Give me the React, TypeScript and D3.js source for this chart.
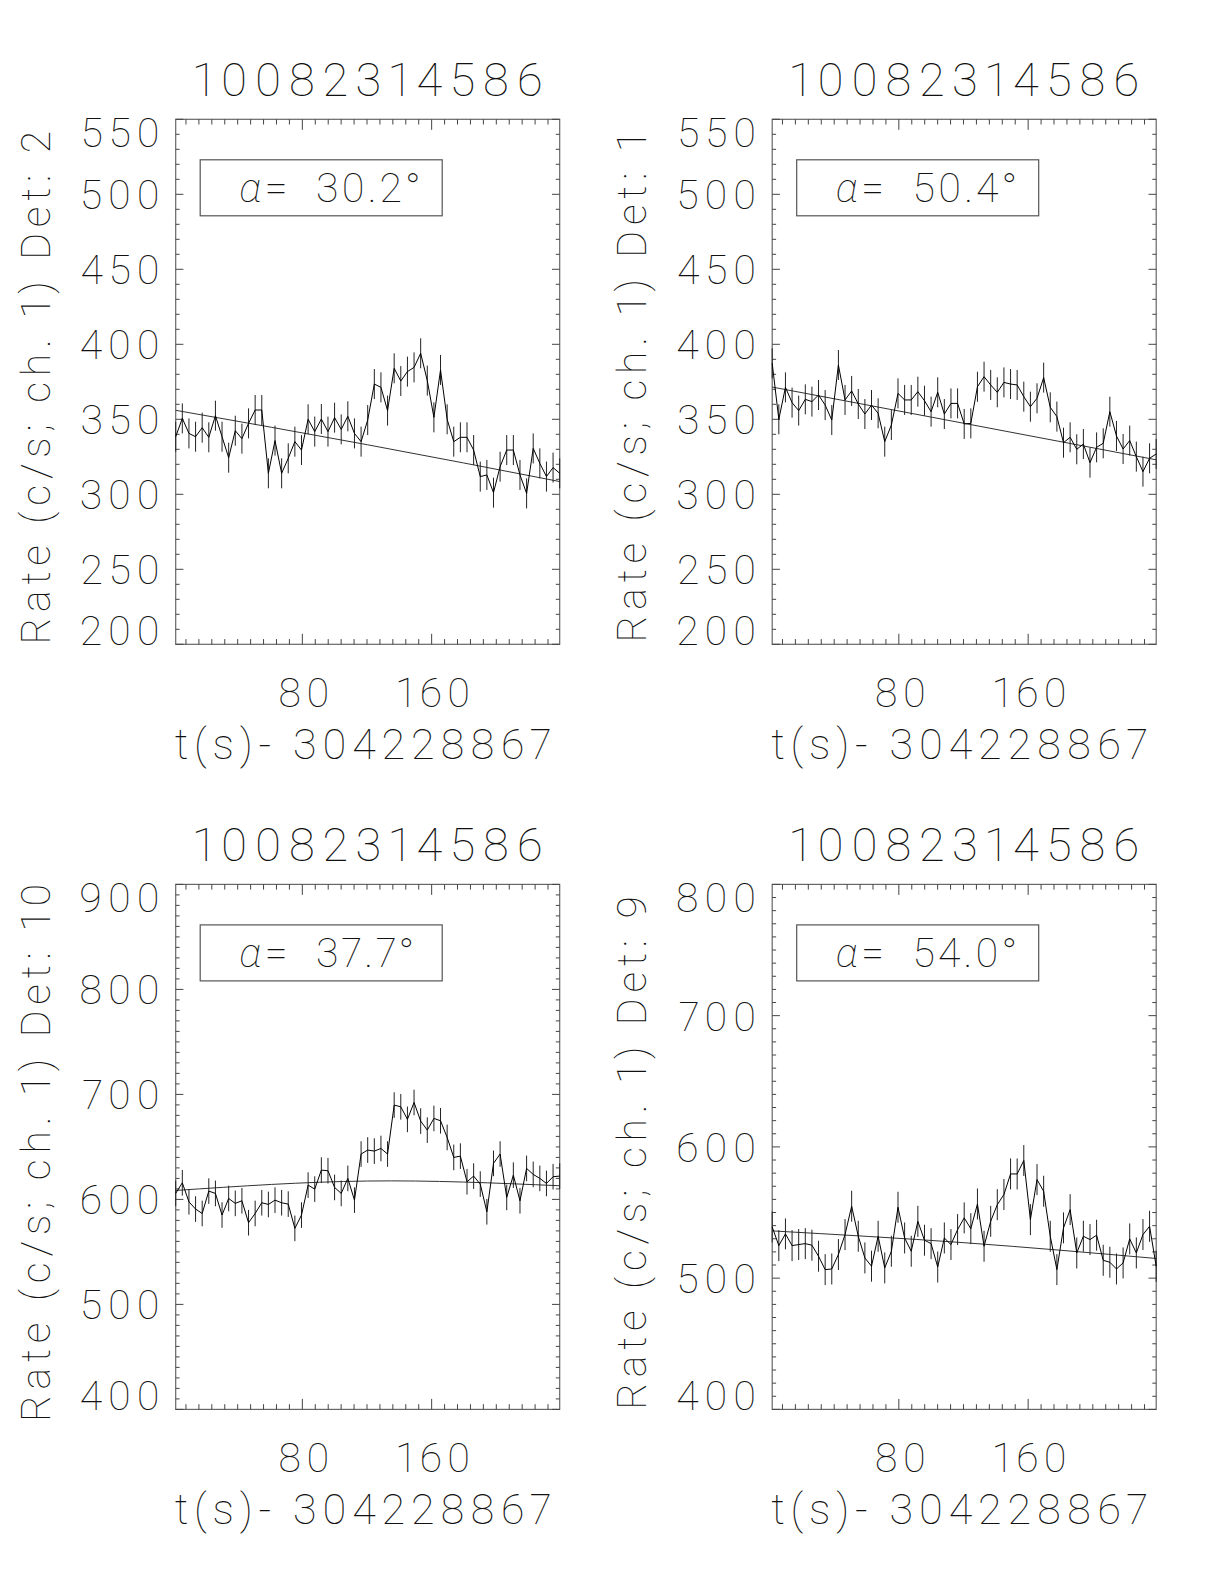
import React from "react";
import * as d3 from "d3";

// time bins (s after 304228867), 4.096 s CSPEC bins
const TIMES = [
  1.65, 5.75, 9.84, 13.94, 18.03, 22.13, 26.23, 30.32, 34.42, 38.51,
  42.61, 46.71, 50.8, 54.9, 58.99, 63.09, 67.19, 71.28, 75.38, 79.47,
  83.57, 87.67, 91.76, 95.86, 99.95, 104.05, 108.15, 112.24, 116.34, 120.43,
  124.53, 128.63, 132.72, 136.82, 140.91, 145.01, 149.11, 153.2, 157.3, 161.39,
  165.49, 169.59, 173.68, 177.78, 181.87, 185.97, 190.07, 194.16, 198.26, 202.35,
  206.45, 210.55, 214.64, 218.74, 222.83, 226.93, 231.03, 235.12, 239.22,
];

const RATE_DET2 = [
  338.4, 350.6, 340.6, 338.4, 344.4, 338, 352.4, 338.4, 324.4, 342.4,
  337.1, 347.3, 356.2, 356.2, 314, 335.8, 314, 324, 335.1, 329.5,
  350, 341.8, 350.2, 341.8, 351.1, 343.3, 352, 340.6, 335.1, 349.5,
  373.5, 371.3, 355.8, 384, 375.5, 381.8, 384.6, 394, 375.8, 351.3,
  382.9, 350, 335.1, 338, 338, 329.5, 311.8, 312.9, 301.1, 318.4,
  329.5, 329.5, 312.9, 300.6, 330.6, 320.6, 311.8, 317.8, 314,
];
const RATE_DET1 = [
  387.3, 350, 371.3, 361.1, 355.8, 363.3, 361.8, 366.2, 359.5, 349.5,
  386.2, 362.9, 368.9, 360.2, 353.5, 359.5, 354, 335.1, 346.2, 367.3,
  362.9, 362.9, 368.4, 362.4, 355.1, 368, 353.5, 360.6, 360.6,
  346.9, 347.3, 371.7, 378.4, 372.9, 368, 374.6, 373.5, 372.9, 365.1,
  358.4, 364, 377.8, 358, 351.8, 334.4, 338, 330, 333.5, 321.1,
  331.3, 334, 355.1, 338.9, 330.2, 335.8, 325.1, 315.1, 324, 326.9,
];
const RATE_DET10 = [
  605.7, 615.8, 597.7, 590.8, 586.6, 607.9, 605.7, 585.1, 600.9, 596.2,
  598.7, 577.8, 586.6, 596.8, 595.2, 599.3, 596.8, 595.5, 572.4, 585.1,
  613.6, 609.8, 627.9, 627.3, 611.4, 605.7, 620, 599.3, 643.2, 647,
  646, 648.5, 643.2, 689.8, 688.2, 676.2, 692.3, 674.6, 666, 677.1,
  674.9, 659, 640, 641.2, 616.8, 622.2, 614.6, 588.2, 634.3, 643.2,
  601.9, 623.1, 598.7, 629.5, 623.8, 620, 615.2, 621.6, 622.2,
];
const RATE_DET9 = [
  539, 524.8, 533.7, 524.8, 525.6, 526.3, 525.1, 516.7, 506.5, 507,
  518, 533.2, 554.8, 531.9, 515.4, 509.1, 531.9, 507.8, 520.5, 554,
  530.6, 520.5, 543.3, 528.9, 526.3, 508.5, 530.6, 525.6, 537,
  545.9, 537.7, 556.5, 524.3, 543.3, 556, 563.7, 579.4, 579.4, 589.6,
  544.6, 575.1, 566.2, 531.9, 506.5, 538.3, 552.2, 519.2, 531.9, 529.4,
  532.7, 513.6, 512.1, 507, 511.6, 529.9, 519.2, 533.2, 539.5, 509,
];

// background fit, evaluated at BG_TIMES
const BG_TIMES = [1.65, 120.43, 239.22];
const BG_DET2 = [356, 333, 308.5];
const BG_DET1 = [371.5, 347.3, 323];
const BG_DET10 = [608.5, 617.5, 613];
const BG_DET9 = [536, 527, 515];

const TITLES = ["10082314586", "10082314586", "10082314586", "10082314586"];
const DETS = ["2", "1", "10", "9"];
const ALPHAS = ["30.2", "50.4", "37.7", "54.0"];
const Y_DOMAINS = [[200, 550], [200, 550], [400, 900], [400, 800]];
const Y_MAJOR = [50, 50, 100, 100];
const ERRS = [10, 10, 12.2, 11.8];
const X_LABEL = "t(s)- 304228867";

const RATES = [RATE_DET2, RATE_DET1, RATE_DET10, RATE_DET9];
const BGS = [BG_DET2, BG_DET1, BG_DET10, BG_DET9];

// layout
const W = 1224, H = 1584;
const PW = 384, PH = 525;
const LEFTS = [175.7, 772.2];
const TOPS = [119.3, 884.4];
const FONT = "Roboto, 'DejaVu Sans', sans-serif";
const FW = 100;
const TXT = "#111";
const NUMSTYLE = { fontVariantNumeric: "proportional-nums" } as React.CSSProperties;

function Panel({ i }: { i: number }) {
  const col = i % 2, row = Math.floor(i / 2);
  const L = LEFTS[col], T = TOPS[row];
  const x = d3.scaleLinear().domain([TIMES[0], TIMES[TIMES.length - 1]]).range([L, L + PW]);
  const [y0, y1] = Y_DOMAINS[i];
  const y = d3.scaleLinear().domain([y0, y1]).range([T + PH, T]);
  const rates = RATES[i];
  const err = ERRS[i];
  const line = d3.line<number>().x((_, k) => x(TIMES[k])).y((d) => y(d));
  const bgLine = d3.line<number>().x((_, k) => x(BG_TIMES[k])).y((d) => y(d)).curve(d3.curveNatural);

  const xMinor = d3.range(0, 248, 8).filter((t) => t > x.domain()[0] && t < x.domain()[1]);
  const yTicks = d3.range(y0, y1 + 0.01, 10);
  const yMaj = Y_MAJOR[i];
  const xMajLen = 10.5, xMinLen = 5.2, yMajLen = 7.7, yMinLen = 3.9;

  const cx = L + PW / 2;
  const cy = T + PH / 2;
  return (
    <g>
      <text x={cx} y={T - 23} textAnchor="middle" fontSize={47} textLength={350} lengthAdjust="spacing"
        fontFamily={FONT} fontWeight={FW} fill={TXT} style={NUMSTYLE}>{TITLES[i]}</text>
      <rect x={L} y={T} width={PW} height={PH} fill="none" stroke="#666" strokeWidth={1.2} />
      {/* x ticks */}
      {xMinor.map((t) => {
        const maj = t % 80 === 0;
        const len = maj ? xMajLen : xMinLen;
        return (
          <g key={"xt" + t} stroke="#444" strokeWidth={1}>
            <line x1={x(t)} x2={x(t)} y1={T + PH} y2={T + PH - len} />
            <line x1={x(t)} x2={x(t)} y1={T} y2={T + len} />
          </g>
        );
      })}
      {xMinor.filter((t) => t % 80 === 0).map((t) => (
        <text key={"xl" + t} x={x(t) + 4} y={T + PH + 63} textAnchor="middle" fontSize={41} letterSpacing={5}
          fontFamily={FONT} fontWeight={FW} fill={TXT} style={NUMSTYLE}>{t}</text>
      ))}
      <text x={cx - 5} y={T + PH + 115} textAnchor="middle" fontSize={43} textLength={376} lengthAdjust="spacing"
        fontFamily={FONT} fontWeight={FW} fill={TXT} style={NUMSTYLE}>{X_LABEL}</text>
      {/* y ticks */}
      {yTicks.map((v) => {
        const maj = Math.abs(v % yMaj) < 1e-6;
        const len = maj ? yMajLen : yMinLen;
        return (
          <g key={"yt" + v} stroke="#444" strokeWidth={1}>
            <line x1={L} x2={L + len} y1={y(v)} y2={y(v)} />
            <line x1={L + PW} x2={L + PW - len} y1={y(v)} y2={y(v)} />
          </g>
        );
      })}
      {yTicks.filter((v) => Math.abs(v % yMaj) < 1e-6).map((v) => {
        const shift = v === y1 ? 14 : v === y0 ? -13 : 1;
        return (
          <text key={"yl" + v} x={L - 10.5} y={y(v) + shift + 14} textAnchor="end" fontSize={41} letterSpacing={5.5}
            fontFamily={FONT} fontWeight={FW} fill={TXT} style={NUMSTYLE}>{v}</text>
        );
      })}
      <text transform={`translate(${L - 126},${cy + 3}) rotate(-90)`} textAnchor="middle" fontSize={41} letterSpacing={5.8}
        fontFamily={FONT} fontWeight={FW} fill={TXT} style={NUMSTYLE}>{`Rate (c/s; ch. 1) Det: ${DETS[i]}`}</text>
      {/* alpha box */}
      <rect x={L + 24.5} y={T + 40.5} width={242} height={56} fill="none" stroke="#555" strokeWidth={1.2} />
      <text x={L + 63.6} y={T + 82.7} fontSize={41} letterSpacing={3} fontFamily={FONT} fontWeight={FW} fill={TXT}
        style={{ whiteSpace: "pre", ...NUMSTYLE }}>
        <tspan fontStyle="italic">α</tspan>
        <tspan>{`=  ${ALPHAS[i]}°`}</tspan>
      </text>
      {/* background fit */}
      <path d={bgLine(BGS[i]) || ""} fill="none" stroke="#333" strokeWidth={1} />
      {/* error bars */}
      {rates.map((v, k) => (
        <line key={"e" + k} x1={x(TIMES[k])} x2={x(TIMES[k])} y1={y(v - err)} y2={y(v + err)} stroke="#222" strokeWidth={1} />
      ))}
      {/* rate curve */}
      <path d={line(rates) || ""} fill="none" stroke="#000" strokeWidth={1} />
    </g>
  );
}

export default function App() {
  return (
    <svg width={W} height={H} viewBox={`0 0 ${W} ${H}`} style={{ position: "absolute", left: 0, top: 0, background: "#fff" }}>
      <rect x={0} y={0} width={W} height={H} fill="#fff" />
      {[0, 1, 2, 3].map((i) => <Panel key={i} i={i} />)}
    </svg>
  );
}
